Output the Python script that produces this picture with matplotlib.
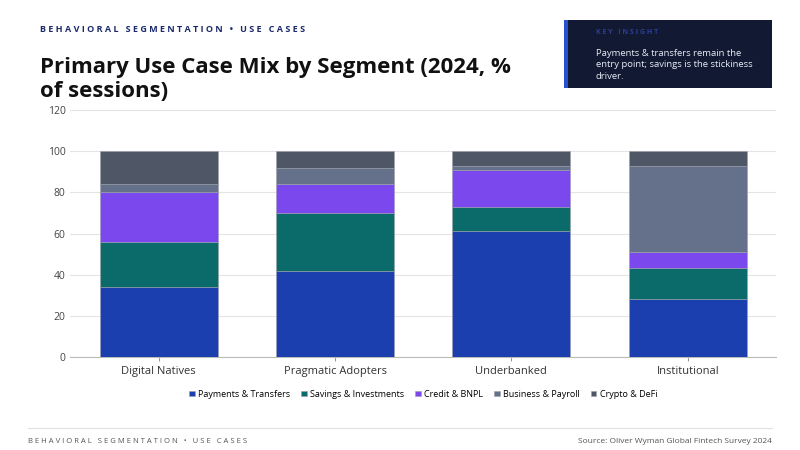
import numpy as np
import matplotlib.pyplot as plt
from matplotlib.patches import Rectangle

segments = ["Digital Natives", "Pragmatic Adopters", "Underbanked", "Institutional"]
series = ["Payments & Transfers", "Savings & Investments", "Credit & BNPL",
          "Business & Payroll", "Crypto & DeFi"]
payments = [34, 42, 61, 28]
savings = [22, 28, 12, 15]
credit = [24, 14, 18, 8]
business = [4, 8, 2, 42]
crypto = [16, 8, 7, 7]
colors = ["#1c3fb0", "#0b6b6b", "#7b48ee", "#65718a", "#4f5666"]

plt.rcParams['font.family'] = ['Open Sans', 'DejaVu Sans']
fig = plt.figure(figsize=(8, 4.5), dpi=100)
fig.patch.set_facecolor("white")

fig.text(0.05, 0.93, "B E H A V I O R A L   S E G M E N T A T I O N   \u2022   U S E   C A S E S",
         fontsize=6.5, color="#1c2a6b", fontweight="bold")
fig.text(0.05, 0.785, "Primary Use Case Mix by Segment (2024, %\nof sessions)", fontsize=16,
         color="#111111", fontweight="bold", linespacing=1.15)

# insight box
fig.patches.append(Rectangle((0.705, 0.805), 0.26, 0.15, transform=fig.transFigure,
                             facecolor="#121a33", edgecolor="none"))
fig.patches.append(Rectangle((0.705, 0.805), 0.005, 0.15, transform=fig.transFigure,
                             facecolor="#2a52d0", edgecolor="none"))
fig.text(0.745, 0.925, "K E Y   I N S I G H T", fontsize=5, color="#2a3f9a", fontweight="bold")
fig.text(0.745, 0.825, "Payments & transfers remain the\nentry point; savings is the stickiness\ndriver.",
         fontsize=6.8, color="#e8ecf5", linespacing=1.35)

ax = fig.add_axes([0.088, 0.207, 0.882, 0.548])
x = np.arange(len(segments))
bottom = np.zeros(len(segments))
for name, vals, c in zip(series, [payments, savings, credit, business, crypto], colors):
    ax.bar(x, vals, 0.67, bottom=bottom, color=c, edgecolor="#9aa0aa", linewidth=0.4,
           label=name, zorder=3)
    bottom += np.array(vals)

ax.set_ylim(0, 120)
ax.set_yticks(range(0, 121, 20))
ax.set_xticks(x)
ax.set_xticklabels(segments, fontsize=8, color="#333333")
ax.tick_params(axis="y", labelsize=7.5, colors="#444444", length=0)
ax.tick_params(axis="x", length=3, color="#999999")
ax.set_xlim(-0.5, 3.5)
ax.grid(axis="y", color="#e4e4e4", linewidth=0.8, zorder=0)
for s in ["top", "right", "left"]:
    ax.spines[s].set_visible(False)
ax.spines["bottom"].set_color("#bbbbbb")

ax.legend(loc="upper center", bbox_to_anchor=(0.5, -0.1), ncol=5, frameon=False,
          fontsize=6.5, handlelength=0.6, handleheight=0.6, columnspacing=1.2,
          handletextpad=0.4)

fig.add_artist(plt.Line2D([0.035, 0.965], [0.05, 0.05], transform=fig.transFigure,
                          color="#e0e0e0", linewidth=0.8))
fig.text(0.035, 0.015, "B E H A V I O R A L   S E G M E N T A T I O N   \u2022   U S E   C A S E S",
         fontsize=5.5, color="#555555")
fig.text(0.965, 0.015, "Source: Oliver Wyman Global Fintech Survey 2024", fontsize=6,
         color="#555555", ha="right")

fig.savefig("out.png", dpi=100)
